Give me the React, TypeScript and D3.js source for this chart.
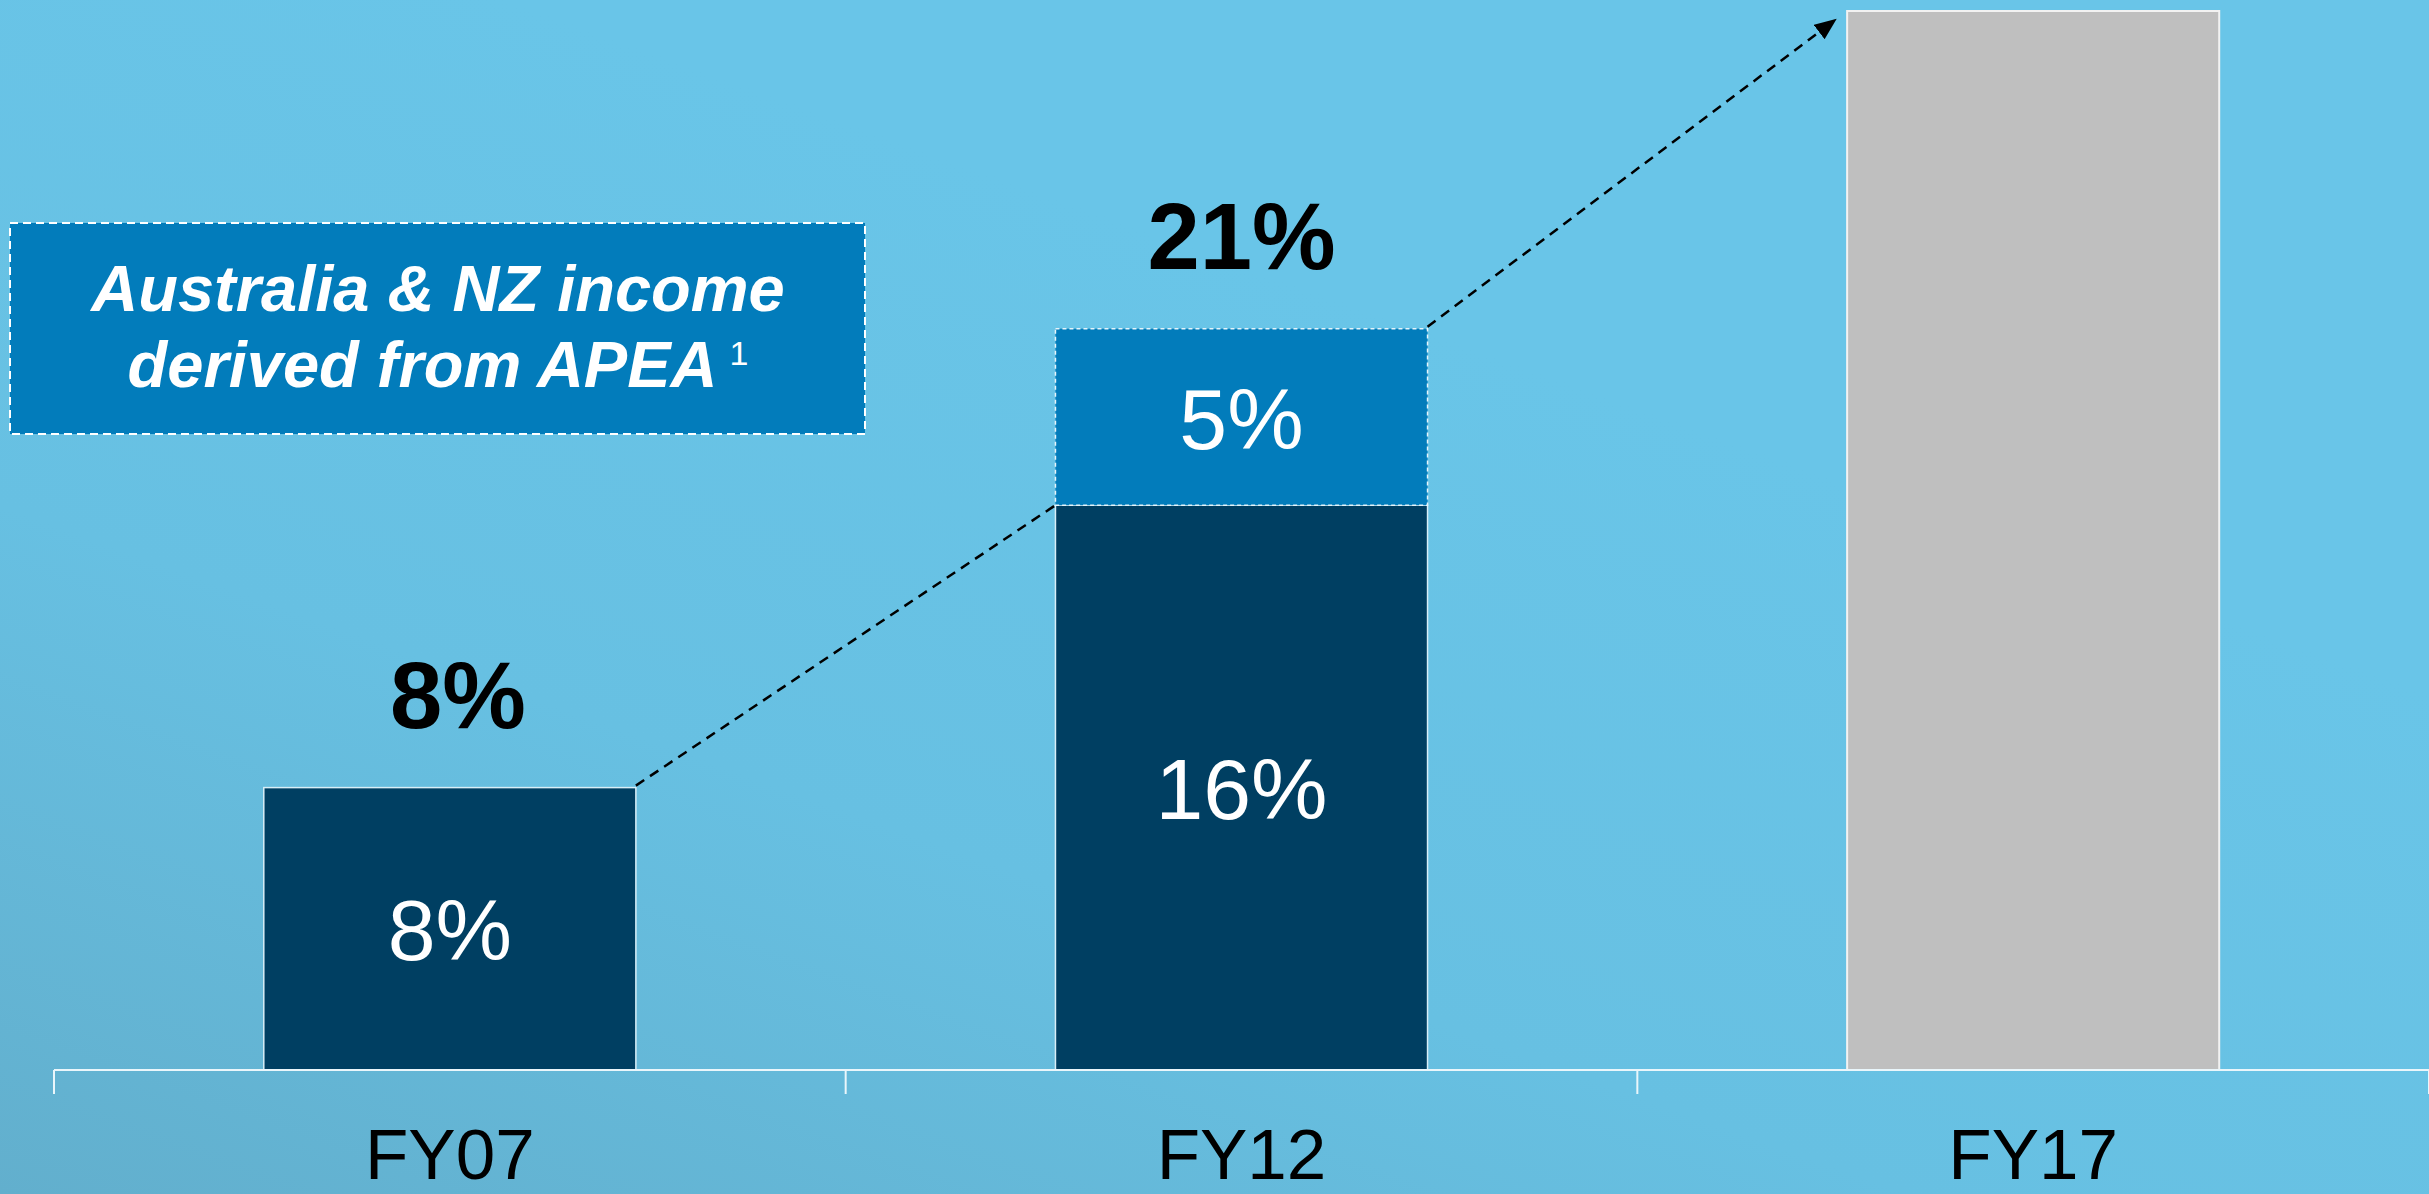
import * as d3 from "d3"
import React from "react"

// share of Australia & NZ income (%)
const categories = ["FY07", "FY12", "FY17"]
const coreShare = [8, 16, 0]
const apeaShare = [0, 5, 0]
const targetShare = [0, 0, 30] // grey placeholder bar for FY17
const totalLabels = ["8%", "21%", ""]
const coreLabels = ["8%", "16%", ""]
const apeaLabels = ["", "5%", ""]

const boxLines = ["Australia & NZ income", "derived from APEA"]
const footnote = "1"

const W = 2429
const H = 1194
const font = "'Liberation Sans', Arial, sans-serif"

const App = () => {
    const margin = { left: 54, right: 0, top: 11, bottom: 124 }
    const baseY = H - margin.bottom

    const x = d3
        .scaleBand()
        .domain(categories)
        .range([margin.left, W - margin.right])
        .padding(0)

    const y = d3.scaleLinear().domain([0, 30]).range([baseY, margin.top])

    const barW = x.bandwidth() * 0.47
    const cx = (c: string) => x(c)! + x.bandwidth() / 2
    const ticks = categories.map((c) => x(c)!).concat([W - margin.right])

    // dashed growth arrows: top-right of one bar to top-left of the next
    const tops = categories.map((_, i) => coreShare[i] + apeaShare[i] + targetShare[i])
    const arrows = [0, 1].map((i) => {
        const x1 = cx(categories[i]) + barW / 2
        const y1 = y(tops[i]) - 2
        let x2 = cx(categories[i + 1]) - barW / 2
        let y2 = y(coreShare[i + 1] || tops[i + 1])
        if (i === 1) {
            x2 -= 12
            y2 += 9
        }
        return { x1, y1, x2, y2, head: i === 1 }
    })

    return (
        <svg
            width={W}
            height={H}
            style={{ position: "absolute", left: 0, top: 0, display: "block" }}
            fontFamily={font}
        >
            <defs>
                <linearGradient id="bg" x1="0" y1="1" x2="0.55" y2="0.25">
                    <stop offset="0" stopColor="#62afcd" />
                    <stop offset="0.5" stopColor="#67c0e2" />
                    <stop offset="1" stopColor="#69c5e8" />
                </linearGradient>
                <marker
                    id="head"
                    markerUnits="userSpaceOnUse"
                    markerWidth="24"
                    markerHeight="20"
                    refX="20"
                    refY="9"
                    orient="auto"
                >
                    <path d="M0,0 L22,9 L0,18 Z" fill="#000" />
                </marker>
            </defs>
            <rect width={W} height={H} fill="url(#bg)" />

            {/* bars */}
            {categories.map((c, i) => (
                <g key={c}>
                    {coreShare[i] > 0 && (
                        <rect
                            x={cx(c) - barW / 2}
                            y={y(coreShare[i])}
                            width={barW}
                            height={baseY - y(coreShare[i])}
                            fill="#003f62"
                            stroke="#d8eef7"
                            strokeWidth={1.5}
                        />
                    )}
                    {apeaShare[i] > 0 && (
                        <rect
                            x={cx(c) - barW / 2}
                            y={y(coreShare[i] + apeaShare[i])}
                            width={barW}
                            height={y(coreShare[i]) - y(coreShare[i] + apeaShare[i])}
                            fill="#027cbb"
                            stroke="#e6f4fa"
                            strokeWidth={1.5}
                            strokeDasharray="4,3"
                        />
                    )}
                    {targetShare[i] > 0 && (
                        <rect
                            x={cx(c) - barW / 2}
                            y={y(targetShare[i])}
                            width={barW}
                            height={baseY - y(targetShare[i])}
                            fill="#bfbfbf"
                            stroke="#f2f2f2"
                            strokeWidth={2}
                        />
                    )}
                </g>
            ))}

            {/* in-bar labels */}
            {categories.map((c, i) => (
                <g key={c + "l"} fill="#fff" fontSize={86} textAnchor="middle">
                    {coreLabels[i] && (
                        <text x={cx(c)} y={(y(coreShare[i]) + baseY) / 2 + 31}>
                            {coreLabels[i]}
                        </text>
                    )}
                    {apeaLabels[i] && (
                        <text
                            x={cx(c)}
                            y={(y(coreShare[i]) + y(coreShare[i] + apeaShare[i])) / 2 + 32}
                        >
                            {apeaLabels[i]}
                        </text>
                    )}
                    {totalLabels[i] && (
                        <text
                            x={cx(c) + (i === 0 ? 8 : 0)}
                            y={y(tops[i]) - 60}
                            fill="#000"
                            fontSize={94}
                            fontWeight="bold"
                        >
                            {totalLabels[i]}
                        </text>
                    )}
                </g>
            ))}

            {/* growth arrows */}
            {arrows.map((a, i) => (
                <line
                    key={i}
                    x1={a.x1}
                    y1={a.y1}
                    x2={a.x2}
                    y2={a.y2}
                    stroke="#000"
                    strokeWidth={2.5}
                    strokeDasharray="10,7"
                    markerEnd={a.head ? "url(#head)" : undefined}
                />
            ))}

            {/* x axis */}
            <line x1={margin.left} x2={W - margin.right} y1={baseY} y2={baseY} stroke="#eaf6fb" strokeWidth={2} />
            {ticks.map((t, i) => (
                <line key={i} x1={t} x2={t} y1={baseY} y2={baseY + 24} stroke="#eaf6fb" strokeWidth={2} />
            ))}
            {categories.map((c) => (
                <text key={c + "a"} x={cx(c)} y={1179} fontSize={71} textAnchor="middle" fill="#000">
                    {c}
                </text>
            ))}

            {/* callout box */}
            <rect
                x={10}
                y={223}
                width={855}
                height={211}
                fill="#027cbb"
                stroke="#fff"
                strokeWidth={2}
                strokeDasharray="8,5"
            />
            <text x={438} y={311} fill="#fff" fontSize={65} fontWeight="bold" fontStyle="italic" textAnchor="middle">
                {boxLines[0]}
            </text>
            <text x={438} y={387} fill="#fff" fontSize={65} fontWeight="bold" fontStyle="italic" textAnchor="middle">
                {boxLines[1]}
                <tspan fontSize={34} fontWeight="normal" fontStyle="normal" dx={12} dy={-22}>
                    {footnote}
                </tspan>
            </text>
        </svg>
    )
}

export default App
